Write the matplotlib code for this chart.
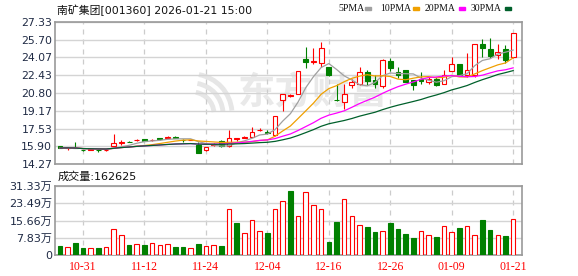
import numpy as np
import pandas as pd
import matplotlib
matplotlib.use("Agg")
import matplotlib.pyplot as plt
import matplotlib.transforms as mtransforms
from matplotlib.patches import Rectangle, Arc

plt.rcParams['font.family'] = ['DejaVu Sans', 'Noto Sans CJK SC']

title = '南矿集团[001360] 2026-01-21 15:00'
dates = ['10-28', '10-29', '10-30', '10-31',
         '11-03', '11-04', '11-05', '11-06', '11-07',
         '11-10', '11-11', '11-12', '11-13', '11-14',
         '11-17', '11-18', '11-19', '11-20', '11-21',
         '11-24', '11-25', '11-26', '11-27', '11-28',
         '12-01', '12-02', '12-03', '12-04', '12-05',
         '12-08', '12-09', '12-10', '12-11', '12-12',
         '12-15', '12-16', '12-17', '12-18', '12-19',
         '12-22', '12-23', '12-24', '12-25', '12-26',
         '12-29', '12-30', '12-31',
         '01-05', '01-06', '01-07', '01-08', '01-09',
         '01-12', '01-13', '01-14', '01-15', '01-16',
         '01-19', '01-20', '01-21']

opens = [15.90, 15.72, 15.78, 15.58, 15.58, 15.60, 15.57, 15.92, 16.22, 16.32,
         16.45, 16.53, 16.48, 16.62, 16.70, 16.72, 16.48, 16.46, 16.02, 15.58,
         16.03, 16.37, 15.89, 16.60, 16.70, 16.76, 17.40, 17.25, 16.95, 20.13,
         20.55, 20.75, 23.92, 23.65, 23.52, 23.15, 20.18, 19.97, 21.52, 21.67,
         22.69, 21.98, 21.42, 23.73, 22.74, 22.90, 21.98, 22.13, 21.77, 22.07,
         21.61, 22.84, 23.45, 22.44, 22.44, 25.30, 24.84, 24.28, 24.84, 24.07]
highs = [15.95, 15.85, 16.30, 15.60, 15.63, 15.64, 15.62, 16.99, 16.45, 16.40,
         16.60, 16.60, 16.60, 16.70, 16.86, 16.85, 16.60, 16.60, 16.28, 15.85,
         16.20, 16.45, 17.36, 16.63, 16.80, 17.67, 17.55, 17.40, 18.70, 20.75,
         20.75, 22.85, 25.05, 24.90, 25.51, 23.20, 21.67, 21.67, 22.10, 23.20,
         22.90, 22.50, 23.90, 24.00, 23.20, 22.95, 21.98, 22.70, 22.30, 22.30,
         22.96, 24.07, 23.50, 24.50, 25.30, 25.76, 25.82, 25.30, 25.20, 26.29]
lows = [15.70, 15.60, 15.70, 15.48, 15.56, 15.40, 15.42, 15.90, 16.00, 16.25,
        16.40, 16.35, 16.42, 16.50, 16.62, 16.62, 16.30, 16.44, 15.28, 15.49,
        15.95, 15.85, 15.79, 16.35, 16.62, 16.72, 17.30, 17.00, 16.85, 19.14,
        20.45, 20.70, 23.06, 23.43, 23.20, 22.38, 20.10, 19.37, 21.30, 21.50,
        21.50, 21.30, 21.30, 22.80, 22.20, 21.80, 21.12, 21.60, 21.60, 21.40,
        21.60, 22.80, 22.37, 22.30, 22.30, 24.13, 23.98, 23.92, 23.60, 24.00]
closes = [15.74, 15.76, 15.72, 15.54, 15.61, 15.57, 15.60, 16.20, 16.30, 16.28,
          16.50, 16.38, 16.50, 16.58, 16.74, 16.68, 16.44, 16.50, 15.30, 15.82,
          16.07, 15.88, 16.67, 16.62, 16.76, 17.22, 17.43, 17.08, 18.68, 20.69,
          20.62, 22.81, 23.67, 23.72, 24.90, 22.44, 20.13, 20.69, 21.82, 22.74,
          21.91, 21.67, 23.82, 23.06, 22.50, 21.82, 21.58, 21.91, 22.07, 21.58,
          22.50, 23.45, 22.37, 22.96, 25.30, 24.90, 24.22, 24.53, 23.82, 26.29]
# 成交量, 单位: 万
volumes = [4.07, 3.6, 5.4, 3.2, 3.2, 3.2, 3.6, 11.6, 8.9, 4.5,
           5.0, 4.5, 5.4, 4.5, 5.0, 3.6, 3.6, 3.2, 5.0, 4.1,
           4.5, 4.1, 21.1, 14.5, 9.9, 15.7, 10.7, 9.9, 21.1, 24.7,
           28.9, 17.9, 28.8, 22.5, 20.7, 5.9, 14.9, 25.6, 17.5, 13.4,
           12.7, 10.4, 10.7, 14.5, 11.8, 9.5, 7.7, 10.7, 8.9, 8.1,
           13.0, 10.4, 12.2, 13.0, 8.9, 15.8, 11.3, 8.9, 8.6, 16.2625]
last_volume = 162625

price_ticks = [14.27, 15.90, 17.53, 19.17, 20.80, 22.43, 24.07, 25.70, 27.33]
vol_ticks = [0, 7.83, 15.66, 23.49, 31.33]
vol_labels = ['0', '7.83万', '15.66万', '23.49万', '31.33万']
ma_periods = [5, 10, 20, 30]
ma_colors = ['#a0a0a0', '#f0a000', '#ff00ff', '#00602b']

RED = '#ff0000'
GREEN = '#008000'
GRID = '#d4d4d4'

n = len(dates)
x = np.arange(n)
o, h, l, c = map(np.array, (opens, highs, lows, closes))
v = np.array(volumes)
up = c >= o
vol_up = np.r_[c[0] >= o[0], c[1:] >= c[:-1]]
tick_idx = list(range(3, n, 8))

fig = plt.figure(figsize=(5.78, 2.76), dpi=100)
W, H = 578.0, 276.0
ax = fig.add_axes([55 / W, 1 - 164 / H, 467 / W, 142 / H])
axv = fig.add_axes([55 / W, 1 - 255 / H, 467 / W, 69 / H])

for a in (ax, axv):
    a.set_xlim(-0.65, n + 0.15)
    for s in a.spines.values():
        s.set_color('#999999')
        s.set_linewidth(1.2)
    a.tick_params(length=0)
    a.set_axisbelow(True)
    a.grid(axis='y', color=GRID, lw=1)
    for t in tick_idx:
        a.axvline(t, color='#cccccc', lw=0.9, ls=(0, (4, 4)), zorder=0.5)

# price panel
ax.set_ylim(price_ticks[0], price_ticks[-1])
ax.set_yticks(price_ticks, [f'{t:.2f}' for t in price_ticks],
              fontsize=7.8, color='#1f2a44')
ax.tick_params(axis='y', pad=2)
ax.set_xticks([])

# watermark
ax.text(0.552, 0.5, '东方财富', transform=ax.transAxes, fontsize=27,
        color='#e9e9e9', ha='center', va='center', fontweight='bold',
        family=['Noto Sans CJK SC'], zorder=0.2)
pix = mtransforms.Affine2D().scale(0.01, -0.01).translate(0, 2.76) + fig.dpi_scale_trans
for r in (22, 31, 40):
    ax.add_patch(Arc((192, 114), 2 * r, 2 * r, theta1=-80, theta2=-5,
                     transform=pix, color='#e6e6e6', lw=3.5, zorder=0.2))

w = 0.62
for i in x:
    lo, hi = min(o[i], c[i]), max(o[i], c[i])
    body = max(hi - lo, 0.01)
    if up[i]:
        ax.vlines(i, hi, h[i], color=RED, lw=0.8, zorder=3)
        ax.vlines(i, l[i], lo, color=RED, lw=0.8, zorder=3)
        ax.add_patch(Rectangle((i - w / 2, lo), w, body, facecolor='white',
                               edgecolor=RED, lw=0.8, zorder=3))
    else:
        ax.vlines(i, l[i], h[i], color=GREEN, lw=0.8, zorder=3)
        ax.add_patch(Rectangle((i - w / 2, lo), w, body, facecolor=GREEN,
                               edgecolor=GREEN, lw=0.8, zorder=3))

cs = pd.Series(c)
for p, col in zip(ma_periods, ma_colors):
    ax.plot(x, cs.rolling(p, min_periods=1).mean(), color=col, lw=0.9, zorder=4)

# volume panel
axv.set_ylim(0, vol_ticks[-1])
axv.set_yticks(vol_ticks, vol_labels, fontsize=8, color='#1f2a44')
axv.tick_params(axis='y', pad=2)
axv.bar(x[vol_up], v[vol_up], width=0.6, facecolor='white', edgecolor=RED, lw=0.8, zorder=3)
axv.bar(x[~vol_up], v[~vol_up], width=0.6, facecolor=GREEN, edgecolor=GREEN, lw=0.8, zorder=3)
axv.set_xticks(tick_idx, [dates[i] for i in tick_idx])
axv.tick_params(axis='x', colors=RED, labelsize=8.5, pad=4)
for t in axv.get_xticklabels():
    t.set_family('Liberation Serif')

# header texts
fig.text(57 / W, 1 - 10 / H, title, fontsize=7.8, va='center', color='#111111')
fig.text(58 / W, 1 - 177 / H, f'成交量:{last_volume}', fontsize=8, va='center', color='#111111')

leg_x = [338, 380, 425, 471]
sq_x = [365, 413, 459, 505]
for p, col, tx, sx in zip(ma_periods, ma_colors, leg_x, sq_x):
    fig.text(tx / W, 1 - 8.5 / H, f'{p}PMA', fontsize=7, va='center',
             family='Liberation Serif', color='#111111')
    fig.add_artist(Rectangle((sx / W, 1 - 10 / H), 6 / W, 3 / H,
                             transform=fig.transFigure, color=col))

fig.savefig('out.png', dpi=100)
